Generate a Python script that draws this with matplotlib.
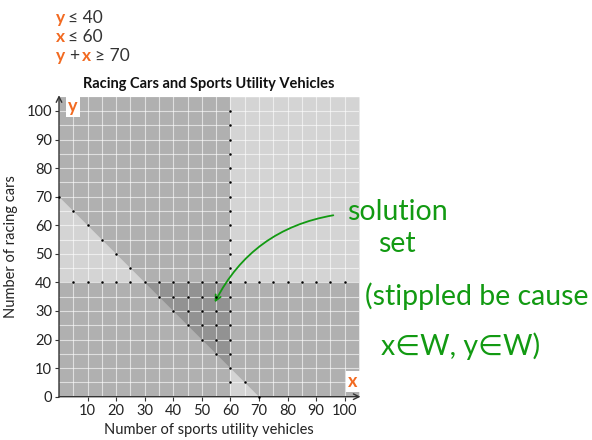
import numpy as np
import matplotlib

matplotlib.use('Agg')
import matplotlib.pyplot as plt

plt.rcParams['font.family'] = ['Lato', 'DejaVu Sans']

# constraints: y <= 40, x <= 60, x + y >= 70
Y_MAX = 40
X_MAX = 60
SUM_MIN = 70
LIMIT = 105

x_ticks = [10, 20, 30, 40, 50, 60, 70, 80, 90, 100]
y_ticks = [0, 10, 20, 30, 40, 50, 60, 70, 80, 90, 100]

# stippled boundary points (every 5 units)
line_steps = list(range(5, 105, 5))
diag_x = [0, 5, 10, 15, 20, 25, 65, 70]
diag_y = [70, 65, 60, 55, 50, 45, 5, 0]

# solution set lattice points (includes its boundary)
sol_x = [35, 40, 45, 50, 55,
         40, 45, 50, 55,
         45, 50, 55,
         50, 55,
         55]
sol_y = [35] * 5 + [30] * 4 + [25] * 3 + [20] * 2 + [15]

ORANGE = '#f26a21'
GREEN = '#129a12'
DARK = '#333333'

fig = plt.figure(figsize=(5.92, 4.4), dpi=100)
ax = fig.add_axes([59 / 592, 43.3 / 440, 300 / 592, 300 / 440])
ax.set_xlim(0, LIMIT)
ax.set_ylim(0, LIMIT)

# shaded half-planes
shade = dict(color='black', alpha=0.17, linewidth=0)
ax.fill_between([0, LIMIT], 0, Y_MAX, **shade)
ax.fill_between([0, X_MAX], 0, LIMIT, **shade)
ax.fill_between([0, SUM_MIN, LIMIT], [SUM_MIN, 0, 0], LIMIT, **shade)

# grid
for v in range(5, LIMIT, 5):
    ax.axvline(v, color='white', lw=0.8, alpha=0.6, zorder=2)
    ax.axhline(v, color='white', lw=0.8, alpha=0.6, zorder=2)

# stipple dots
dot = dict(color='black', marker='o', ms=1.8, mew=0, ls='none', zorder=4, clip_on=False)
ax.plot(line_steps, [Y_MAX] * len(line_steps), **dot)
ax.plot([X_MAX] * len(line_steps), line_steps, **dot)
ax.plot(diag_x, diag_y, **dot)
ax.plot(sol_x, sol_y, **dot)

# axes with arrows
for s in ax.spines.values():
    s.set_visible(False)
ax.annotate('', xy=(1.005, 0), xytext=(0, 0), xycoords='axes fraction',
            arrowprops=dict(arrowstyle='->', lw=1, color=DARK, shrinkA=0, shrinkB=0))
ax.annotate('', xy=(0, 1.005), xytext=(0, 0), xycoords='axes fraction',
            arrowprops=dict(arrowstyle='->', lw=1, color=DARK, shrinkA=0, shrinkB=0))

ax.set_xticks(x_ticks)
ax.set_yticks(y_ticks)
ax.tick_params(length=3, width=0.8, color=DARK, labelsize=10.5, labelcolor='#222222', pad=2)
ax.set_xlabel('Number of sports utility vehicles', fontsize=10.5, color='#222222', labelpad=4)
ax.set_ylabel('Number of racing cars', fontsize=10.5, color='#222222', labelpad=6)
ax.set_title('Racing Cars and Sports Utility Vehicles', fontsize=10.5,
             fontweight='bold', color='#111111', pad=6)

box = dict(facecolor='white', edgecolor='none', pad=1.5)
ax.text(0.03, 0.995, 'y', transform=ax.transAxes, ha='left', va='top', color=ORANGE,
        fontsize=13, fontweight='bold', bbox=box, zorder=5)
ax.text(0.995, 0.05, 'x', transform=ax.transAxes, ha='right', va='center', color=ORANGE,
        fontsize=13, fontweight='bold', bbox=box, zorder=5)


def px(x, y, s, color='#333333', size=12.5, **kw):
    """Place figure text using pixel coordinates measured from the top-left."""
    fig.text(x / 592, 1 - y / 440, s, color=color, fontsize=size, va='center', **kw)


# inequalities
px(56, 18, 'y', ORANGE, fontweight='bold')
px(68, 18, '≤ 40')
px(56, 37, 'x', ORANGE, fontweight='bold')
px(68, 37, '≤ 60')
px(56, 56, 'y', ORANGE, fontweight='bold')
px(69, 56, '+')
px(82, 56, 'x', ORANGE, fontweight='bold')
px(95, 56, '≥ 70')

# handwritten annotation
px(347, 212, 'solution', GREEN, 20.5)
px(378, 244, 'set', GREEN, 20.5)
px(365, 296, '(stippled be cause', GREEN, 20.5)
px(381, 346, 'x∈W, y∈W)', GREEN, 20.5)

ax.annotate('', xy=(54.5, 33), xytext=(96, 63.5), xycoords='data', textcoords='data',
            annotation_clip=False,
            arrowprops=dict(arrowstyle='->', color=GREEN, lw=1.3,
                            connectionstyle='arc3,rad=0.25', shrinkA=0, shrinkB=0))

fig.savefig('out.png', dpi=100)
